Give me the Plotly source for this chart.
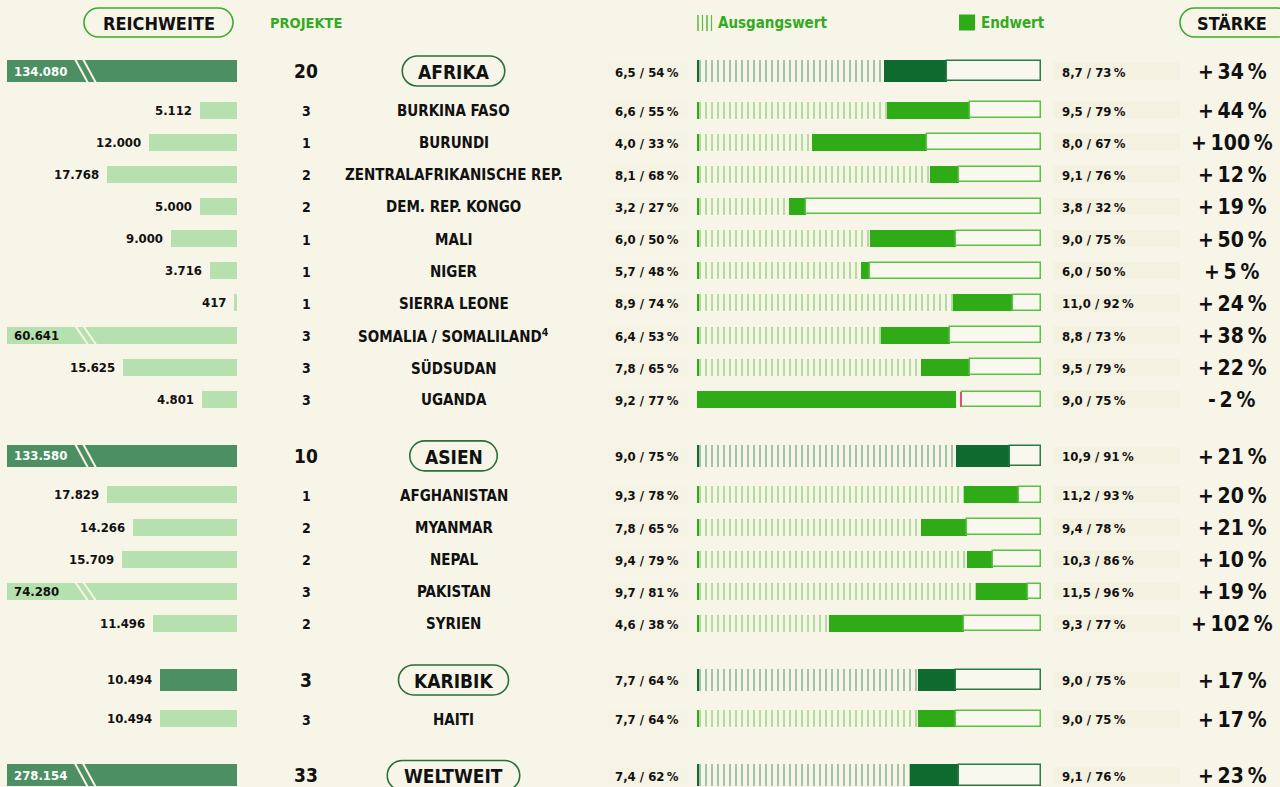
import plotly.graph_objects as go

W, H = 1280, 787

# ---------------- data ----------------
names = ["AFRIKA", "BURKINA FASO", "BURUNDI", "ZENTRALAFRIKANISCHE REP.", "DEM. REP. KONGO",
         "MALI", "NIGER", "SIERRA LEONE", "SOMALIA / SOMALILAND<sup>4</sup>", "SÜDSUDAN", "UGANDA",
         "ASIEN", "AFGHANISTAN", "MYANMAR", "NEPAL", "PAKISTAN", "SYRIEN",
         "KARIBIK", "HAITI", "WELTWEIT"]
is_region = [True, False, False, False, False, False, False, False, False, False, False,
             True, False, False, False, False, False,
             True, False, True]
reach = [134080, 5112, 12000, 17768, 5000, 9000, 3716, 417, 60641, 15625, 4801,
         133580, 17829, 14266, 15709, 74280, 11496,
         10494, 10494, 278154]
projects = [20, 3, 1, 2, 2, 1, 1, 1, 3, 3, 3,
            10, 1, 2, 2, 3, 2,
            3, 3, 33]
start_val = [6.5, 6.6, 4.0, 8.1, 3.2, 6.0, 5.7, 8.9, 6.4, 7.8, 9.2,
             9.0, 9.3, 7.8, 9.4, 9.7, 4.6,
             7.7, 7.7, 7.4]
start_pct = [54, 55, 33, 68, 27, 50, 48, 74, 53, 65, 77,
             75, 78, 65, 79, 81, 38,
             64, 64, 62]
end_val = [8.7, 9.5, 8.0, 9.1, 3.8, 9.0, 6.0, 11.0, 8.8, 9.5, 9.0,
           10.9, 11.2, 9.4, 10.3, 11.5, 9.3,
           9.0, 9.0, 9.1]
end_pct = [73, 79, 67, 76, 32, 75, 50, 92, 73, 79, 75,
           91, 93, 78, 86, 96, 77,
           75, 75, 76]
change = [34, 44, 100, 12, 19, 50, 5, 24, 38, 22, -2,
          21, 20, 21, 10, 19, 102,
          17, 17, 23]
SCALE_MAX = 12
header_labels = ["REICHWEITE", "PROJEKTE", "Ausgangswert", "Endwert", "STÄRKE"]

# ---------------- style ----------------
BG = "#f7f5e7"
FONT = "Liberation Sans Narrow, DejaVu Sans Condensed, Roboto, sans-serif"
REACH_REGION = "#4b8f62"
REACH_COUNTRY = "#b6e0ad"
SOLID_REGION = "#0e6a2e"
SOLID_COUNTRY = "#2fab17"
HATCH_REGION = "#3f8753"
HATCH_COUNTRY = "#5dbb48"
BOX_LINE_REGION = "#2a7a45"
BOX_LINE_COUNTRY = "#5cbf48"
GREEN_TEXT = "#34aa22"
PILL_HEAD = "#3aab2a"
PILL_REGION = "#2b6e3a"

REACH_RIGHT = 237          # px right edge of reach panel
REACH_MAX = 32400          # people at left edge of reach panel
REACH_CAP = REACH_MAX * (REACH_RIGHT - 7) / REACH_RIGHT
BAR_L, BAR_R = 697, 1042

# ---------------- row positions ----------------
ys = []
y = 71.0
for i, reg in enumerate(is_region):
    if i == 0:
        y = 71.0
    elif reg:
        y += 56.5
    elif is_region[i - 1]:
        y += 39.0
    else:
        y += 32.15
    ys.append(y)

hgt = [22 if r else 17 for r in is_region]


def px(x):
    return x / W


def de(n):
    return f"{n:,}".replace(",", ".")


def dec(v):
    return f"{v:.1f}".replace(".", ",")


fig = go.Figure()

# reach bars (left panel)
fig.add_trace(go.Bar(
    y=ys, x=[min(r, REACH_CAP) for r in reach], orientation="h", xaxis="x", yaxis="y",
    width=hgt, marker=dict(color=[REACH_REGION if r else REACH_COUNTRY for r in is_region], line=dict(width=0)),
    hoverinfo="skip"))

# middle bars
up = [e >= s for s, e in zip(start_val, end_val)]
for reg_flag, fg in [(True, HATCH_REGION), (False, HATCH_COUNTRY)]:
    idx = [i for i in range(len(names)) if is_region[i] == reg_flag and up[i]]
    fig.add_trace(go.Bar(
        y=[ys[i] for i in idx], x=[start_val[i] for i in idx], base=0, orientation="h",
        xaxis="x2", yaxis="y", width=[hgt[i] for i in idx],
        marker=dict(color=BG, line=dict(width=0),
                    pattern=dict(shape="|", fgcolor=fg, bgcolor=BG, size=6, solidity=0.3)),
        hoverinfo="skip"))
# left edge line
fig.add_trace(go.Bar(
    y=ys, x=[0.06] * len(ys), base=0, orientation="h", xaxis="x2", yaxis="y", width=hgt,
    marker=dict(color=[SOLID_REGION if r else SOLID_COUNTRY for r in is_region], line=dict(width=0)),
    hoverinfo="skip"))
# solid part
fig.add_trace(go.Bar(
    y=ys,
    x=[(e - s) if u else e for s, e, u in zip(start_val, end_val, up)],
    base=[s if u else 0 for s, u in zip(start_val, up)],
    orientation="h", xaxis="x2", yaxis="y", width=hgt,
    marker=dict(color=[SOLID_REGION if r else SOLID_COUNTRY for r in is_region], line=dict(width=0)),
    hoverinfo="skip"))
# empty box
box_base = [e if u else s for s, e, u in zip(start_val, end_val, up)]
fig.add_trace(go.Bar(
    y=ys, x=[SCALE_MAX - b - 0.02 for b in box_base], base=box_base,
    orientation="h", xaxis="x2", yaxis="y", width=[h - 1.5 for h in hgt],
    marker=dict(color="#f9f8ee",
                line=dict(color=[BOX_LINE_REGION if r else BOX_LINE_COUNTRY for r in is_region], width=1.5)),
    hoverinfo="skip"))
# decline marker
dn = [i for i in range(len(names)) if not up[i]]
if dn:
    fig.add_trace(go.Bar(
        y=[ys[i] for i in dn], x=[0.04] * len(dn), base=[start_val[i] - 0.02 for i in dn],
        orientation="h", xaxis="x2", yaxis="y", width=[hgt[i] - 1.5 for i in dn],
        marker=dict(color="#d9576a", line=dict(width=0)), hoverinfo="skip"))

shapes = []
ann = []


def pill(x0, x1, y0, y1, color, width=1.6):
    r = (y1 - y0) / 2
    k = 0.5523 * r
    ym = (y0 + y1) / 2
    pts = (f"M {px(x0 + r)},{y0} L {px(x1 - r)},{y0} "
           f"C {px(x1 - r + k)},{y0} {px(x1)},{ym - k} {px(x1)},{ym} "
           f"C {px(x1)},{ym + k} {px(x1 - r + k)},{y1} {px(x1 - r)},{y1} "
           f"L {px(x0 + r)},{y1} "
           f"C {px(x0 + r - k)},{y1} {px(x0)},{ym + k} {px(x0)},{ym} "
           f"C {px(x0)},{ym - k} {px(x0 + r - k)},{y0} {px(x0 + r)},{y0} Z")
    shapes.append(dict(type="path", xref="paper", yref="y", path=pts,
                       line=dict(color=color, width=width), fillcolor="rgba(0,0,0,0)", layer="above"))


def text(x, y, s, size, color="#111111", anchor="center", weight="bold"):
    ann.append(dict(xref="paper", yref="y", x=px(x), y=y, text=s, showarrow=False,
                    xanchor=anchor, yanchor="middle",
                    font=dict(family=FONT, size=size, color=color, weight=weight)))


# header
pill(84, 233, 8, 37, PILL_HEAD)
text(158.5, 23, header_labels[0], 18)
text(268, 23, header_labels[1], 14.5, GREEN_TEXT, "left")
for k in range(4):
    shapes.append(dict(type="line", xref="paper", yref="y", x0=px(698 + 4.5 * k), x1=px(698 + 4.5 * k),
                       y0=15, y1=31, line=dict(color=SOLID_COUNTRY if k % 2 == 0 else HATCH_COUNTRY, width=1.2)))
text(716, 23, header_labels[2], 15, GREEN_TEXT, "left")
shapes.append(dict(type="rect", xref="paper", yref="y", x0=px(959), x1=px(975), y0=14.5, y1=30.5,
                   fillcolor=SOLID_COUNTRY, line=dict(width=0)))
text(979, 23, header_labels[3], 15, GREEN_TEXT, "left")
pill(1180, 1292, 8, 37, PILL_HEAD)
text(1232, 23, header_labels[4], 18)

# faint boxes and rows
for i, yv in enumerate(ys):
    reg = is_region[i]
    hh = hgt[i]
    shapes.append(dict(type="rect", xref="paper", yref="y", x0=px(1053), x1=px(1180),
                       y0=yv - 8.5, y1=yv + 8.5, fillcolor="#f3f1e0", line=dict(width=0), layer="below"))
    shapes.append(dict(type="rect", xref="paper", yref="y", x0=px(608), x1=px(688),
                       y0=yv - 8.5, y1=yv + 8.5, fillcolor="#f5f3e4", line=dict(width=0), layer="below"))
    # reach label
    capped = reach[i] > REACH_CAP
    if capped:
        text(12, yv, de(reach[i]), 13, "#ffffff" if reg else "#111111", "left")
        for off in (0, 8):
            shapes.append(dict(type="line", xref="paper", yref="y",
                               x0=px(75 + off), x1=px(88 + off), y0=yv - hh / 2 - 1, y1=yv + hh / 2 + 1,
                               line=dict(color=BG, width=2), layer="above"))
    else:
        bar_left = REACH_RIGHT - reach[i] / REACH_MAX * REACH_RIGHT
        text(bar_left - 6, yv, de(reach[i]), 13, "#111111", "right")
    # projects
    text(306, yv + (0 if reg else 1), str(projects[i]), 19 if reg else 14)
    # name
    if reg:
        u = sum(0.5 if c == "I" else 1 for c in names[i])
        w = 15 * u + 20
        pill(453.5 - w / 2, 453.5 + w / 2, yv - 15, yv + 15, PILL_REGION)
        text(453.5, yv + 1, names[i], 19)
    else:
        text(453.5, yv + 1, names[i], 15)
    # start / end text
    text(681, yv + 1, f"{dec(start_val[i])} / {start_pct[i]}\u2009%", 13, "#111111", "right")
    text(1060, yv + 1, f"{dec(end_val[i])} / {end_pct[i]}\u2009%", 13, "#111111", "left")
    # change
    c = change[i]
    sign = "+" if c >= 0 else "-"
    text(1232, yv + 1, f"{sign}\u2009{abs(c)}\u2009%", 21)

fig.update_layout(
    width=W, height=H, margin=dict(l=0, r=0, t=0, b=0),
    paper_bgcolor=BG, plot_bgcolor=BG, showlegend=False, barmode="overlay", bargap=0,
    hovermode=False,
    xaxis=dict(domain=[0, REACH_RIGHT / W], range=[REACH_MAX, 0], visible=False, fixedrange=True, anchor="y"),
    xaxis2=dict(domain=[BAR_L / W, BAR_R / W], range=[0, SCALE_MAX], visible=False, fixedrange=True, anchor="y"),
    yaxis=dict(domain=[0, 1], range=[H, 0], visible=False, fixedrange=True, anchor="x"),
    shapes=shapes, annotations=ann,
)

fig.write_html("out.html", config=dict(displayModeBar=False),
               post_script="document.body.style.margin='0';document.body.style.background='%s';" % BG)
